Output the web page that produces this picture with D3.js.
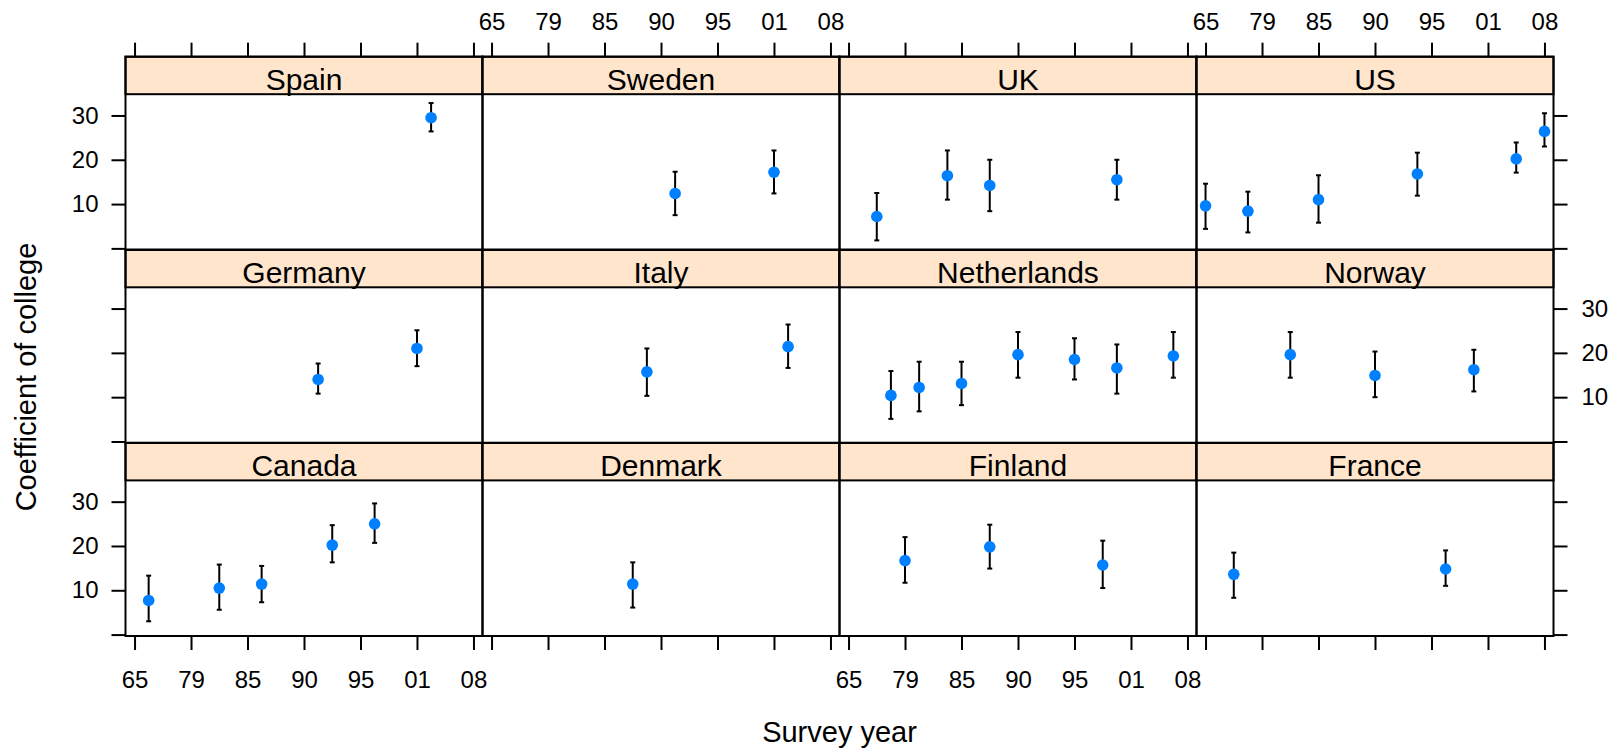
<!DOCTYPE html>
<html>
<head>
<meta charset="utf-8">
<script src="https://cdn.jsdelivr.net/npm/d3@7"></script>
<style>
  body { margin: 0; background: #fff; }
  text { font-family: "Liberation Sans", Arial, sans-serif; fill: #000; }
</style>
</head>
<body>
<div id="chart"></div>
<script>
// panels, in lattice order (filled from the bottom row up)
const countries = ["Canada", "Denmark", "Finland", "France", "Germany", "Italy",
  "Netherlands", "Norway", "Spain", "Sweden", "UK", "US"];

// x axis: survey waves, evenly spaced
const waveLabels = ["65", "79", "85", "90", "95", "01", "08"];
const yTicks = [0, 10, 20, 30];

// one entry per estimate
const country = [
  "Canada", "Canada", "Canada", "Canada", "Canada",
  "Denmark",
  "Finland", "Finland", "Finland",
  "France", "France",
  "Germany", "Germany",
  "Italy", "Italy",
  "Netherlands", "Netherlands", "Netherlands", "Netherlands", "Netherlands", "Netherlands", "Netherlands",
  "Norway", "Norway", "Norway",
  "Spain",
  "Sweden", "Sweden",
  "UK", "UK", "UK", "UK",
  "US", "US", "US", "US", "US", "US"
];
const wave = [
  0.25, 1.5, 2.25, 3.5, 4.25,
  2.5,
  1.0, 2.5, 4.5,
  0.5, 4.25,
  3.25, 5.0,
  2.75, 5.25,
  0.75, 1.25, 2.0, 3.0, 4.0, 4.75, 5.75,
  1.5, 3.0, 4.75,
  5.25,
  3.25, 5.0,
  0.5, 1.75, 2.5, 4.75,
  0.0, 0.75, 2.0, 3.75, 5.5, 6.0
];
const coef = [
  7.7, 10.5, 11.4, 20.2, 25.0,
  11.4,
  16.7, 19.8, 15.7,
  13.6, 14.8,
  14.0, 21.0,
  15.7, 21.4,
  10.4, 12.2, 13.1, 19.6, 18.5, 16.6, 19.3,
  19.6, 14.9, 16.2,
  29.5,
  12.4, 17.2,
  7.2, 16.4, 14.2, 15.5,
  9.6, 8.4, 11.0, 16.8, 20.2, 26.4
];
const lower = [
  3.0, 5.6, 7.3, 16.3, 20.7,
  6.1,
  11.7, 14.9, 10.5,
  8.3, 11.0,
  10.8, 17.0,
  10.3, 16.6,
  5.1, 6.8, 8.2, 14.4, 14.0, 10.8, 14.4,
  14.4, 10.0, 11.3,
  26.4,
  7.5, 12.4,
  1.8, 11.0, 8.4, 11.0,
  4.4, 3.6, 5.8, 11.9, 17.1, 23.0
];
const upper = [
  13.3, 15.8, 15.5, 24.7, 29.6,
  16.3,
  22.0, 24.8, 21.2,
  18.5, 19.0,
  17.6, 25.1,
  21.0, 26.4,
  15.9, 18.0, 18.0, 24.7, 23.3, 21.9, 24.7,
  24.7, 20.3, 20.7,
  32.8,
  17.3, 22.1,
  12.5, 22.1, 20.0, 20.0,
  14.6, 12.8, 16.5, 21.6, 23.9, 30.5
];

const rows = country.map((c, i) => ({
  country: c, wave: wave[i], coef: coef[i], lower: lower[i], upper: upper[i]
}));

//Dimensions
const dimensions = {
  width: 1621,
  height: 755,
  left: 125.5,
  top: 56.7,
  panelW: 357,
  rowH: 193.1,
  stripH: 37.5,
  tick: 14,
};
const nCols = 4, nRows = 3;

const svg = d3.select("#chart")
  .append("svg")
  .attr("width", dimensions.width)
  .attr("height", dimensions.height);

const xDomain = [-0.16, 6.16];
const yDomain = [-0.32, 34.8];

function hideDomain(g) {
  g.select(".domain").remove();
  g.selectAll(".tick line").attr("stroke", "#000").attr("stroke-width", 2);
  g.selectAll(".tick text").style("font-size", "24px").attr("fill", "#000");
}

countries.forEach((name, i) => {
  const col = i % nCols;
  const row = nRows - 1 - Math.floor(i / nCols);
  const x0 = dimensions.left + col * dimensions.panelW;
  const y0 = dimensions.top + row * dimensions.rowH;
  const stripBottom = y0 + dimensions.stripH;
  const plotBottom = y0 + dimensions.rowH;

  const xScale = d3.scaleLinear().domain(xDomain).range([x0, x0 + dimensions.panelW]);
  const yScale = d3.scaleLinear().domain(yDomain).range([plotBottom, stripBottom]);

  const g = svg.append("g");

  // strip
  g.append("rect")
    .attr("x", x0).attr("y", y0)
    .attr("width", dimensions.panelW).attr("height", dimensions.stripH)
    .attr("fill", "#ffe5cc")
    .attr("stroke", "#000").attr("stroke-width", 2);
  g.append("text")
    .attr("x", x0 + dimensions.panelW / 2)
    .attr("y", stripBottom - 4.5)
    .attr("text-anchor", "middle")
    .style("font-size", "30px")
    .text(name);

  // error bars + points
  const pts = rows.filter((d) => d.country === name);
  const bars = g.selectAll(".bar").data(pts).join("g");
  bars.append("line")
    .attr("x1", (d) => xScale(d.wave)).attr("x2", (d) => xScale(d.wave))
    .attr("y1", (d) => yScale(d.lower)).attr("y2", (d) => yScale(d.upper))
    .attr("stroke", "#000").attr("stroke-width", 2);
  ["lower", "upper"].forEach((k) => {
    bars.append("line")
      .attr("x1", (d) => xScale(d.wave) - 2.5).attr("x2", (d) => xScale(d.wave) + 2.5)
      .attr("y1", (d) => yScale(d[k])).attr("y2", (d) => yScale(d[k]))
      .attr("stroke", "#000").attr("stroke-width", 2);
  });
  g.selectAll(".pt").data(pts).join("circle")
    .attr("cx", (d) => xScale(d.wave))
    .attr("cy", (d) => yScale(d.coef))
    .attr("r", 5.8)
    .attr("fill", "#0080ff");

  // panel border
  g.append("rect")
    .attr("x", x0).attr("y", y0)
    .attr("width", dimensions.panelW).attr("height", dimensions.rowH)
    .attr("fill", "none")
    .attr("stroke", "#000").attr("stroke-width", 2);

  // alternating axes, lattice style
  const xTicks = d3.range(waveLabels.length);
  if (row === 0) {
    const ax = d3.axisTop(xScale).tickValues(xTicks).tickSize(dimensions.tick).tickPadding(13)
      .tickFormat((d) => (col % 2 === 1 ? waveLabels[d] : ""));
    svg.append("g").attr("transform", `translate(0, ${y0})`).call(ax).call(hideDomain);
  }
  if (row === nRows - 1) {
    const ax = d3.axisBottom(xScale).tickValues(xTicks).tickSize(dimensions.tick).tickPadding(21)
      .tickFormat((d) => (col % 2 === 0 ? waveLabels[d] : ""));
    svg.append("g").attr("transform", `translate(0, ${plotBottom})`).call(ax).call(hideDomain);
  }
  if (col === 0) {
    const ax = d3.axisLeft(yScale).tickValues(yTicks).tickSize(dimensions.tick).tickPadding(13)
      .tickFormat((d) => (row % 2 === 0 && d > 0 ? d : ""));
    svg.append("g").attr("transform", `translate(${x0}, 0)`).call(ax).call(hideDomain);
  }
  if (col === nCols - 1) {
    const ax = d3.axisRight(yScale).tickValues(yTicks).tickSize(dimensions.tick).tickPadding(14)
      .tickFormat((d) => (row % 2 === 1 && d > 0 ? d : ""));
    svg.append("g").attr("transform", `translate(${x0 + dimensions.panelW}, 0)`).call(ax).call(hideDomain);
  }
});

// axis titles
const panelsRight = dimensions.left + nCols * dimensions.panelW;
svg.append("text")
  .attr("x", (dimensions.left + panelsRight) / 2)
  .attr("y", 742)
  .attr("text-anchor", "middle")
  .style("font-size", "29px")
  .text("Survey year");

svg.append("text")
  .attr("transform", `translate(36, 377) rotate(-90)`)
  .attr("text-anchor", "middle")
  .style("font-size", "29px")
  .text("Coefficient of college");
</script>
</body>
</html>
